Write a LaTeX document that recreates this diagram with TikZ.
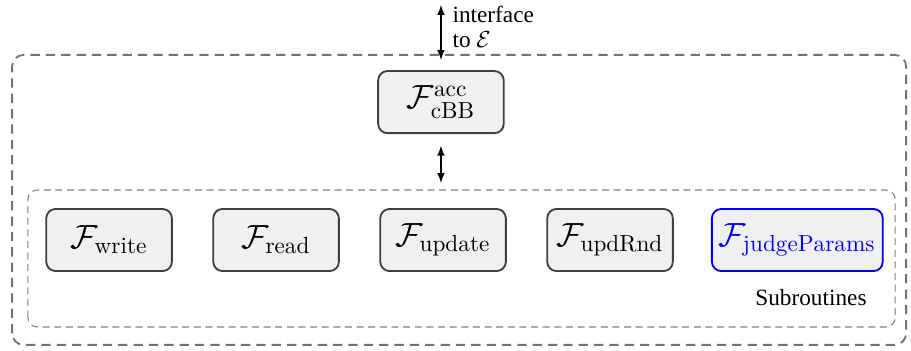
\documentclass[tikz,border=0pt]{standalone}
\usepackage{amsmath}
\usepackage{fontspec}
\usepackage{tikz}
\usetikzlibrary{positioning}
\newfontfamily\lblfont{Liberation Serif}

\begin{document}
\begin{tikzpicture}[x=1pt,y=1pt,
    func/.style = {draw=black!75, fill=black!6, line width=0.8pt, rounded corners=4pt,
                   minimum width=54pt, minimum height=26.7pt, inner sep=3pt, font=\Large},
    outerbox/.style = {draw=black!55, line width=0.8pt, dash pattern=on 4pt off 2.6pt, rounded corners=5pt},
    innerbox/.style = {draw=black!50, line width=0.45pt, dash pattern=on 3pt off 2pt, rounded corners=4pt},
    conn/.style = {latex-latex, line width=0.5pt}]
        \useasboundingbox (0,0) rectangle (391.7,150.5);
        % frames
        \draw[outerbox] (5.2,2.2) rectangle (389.6,126.9);
        \draw[innerbox] (12.0,9.9) rectangle (384.9,68.8);
        % functionality and its subroutines
        \node[func] (cbb) at (189.6,106.6) {$\mathcal{F}_{\mathrm{cBB}}^{\mathrm{acc}}$};
        \node[func] (write) at (46.9,47.3) {$\mathcal{F}_{\mathrm{write}}$};
        \node[func] (read) [right=17pt of write] {$\mathcal{F}_{\mathrm{read}}$};
        \node[func] (update) [right=17pt of read] {$\mathcal{F}_{\mathrm{update}}$};
        \node[func] (updrnd) [right=17pt of update] {$\mathcal{F}_{\mathrm{updRnd}}$};
        \node[func, draw=blue, text=blue] (judge) [right=16pt of updrnd] {$\mathcal{F}_{\mathrm{judgeParams}}$};
        \node[font=\lblfont] (subr) at (348.7,22.4) {Subroutines};
        % interface
        \coordinate (env) at (189.6,148.4);
        \coordinate (envin) at (189.6,124.7);
        \coordinate (subtop) at (189.6,71.8);
        \node[font=\lblfont, align=left, anchor=west, inner sep=0pt] (iface) at (194.4,139)
            {interface\\[-1pt]to $\mathcal{E}$};
        \draw[conn] (env) -- (envin);
        \draw[conn] ([yshift=-5pt]cbb.south) -- (subtop);
\end{tikzpicture}
\end{document}
